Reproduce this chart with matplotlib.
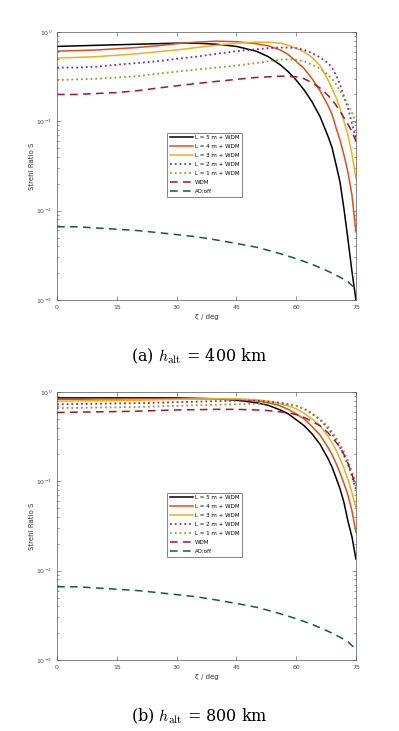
import matplotlib.pyplot as plt
import numpy as np

# zenith angle (deg)
zeta = [0, 5, 10, 15, 20, 25, 30, 35, 40, 45, 50, 53, 56, 58, 60, 62, 64, 66, 68, 69, 70, 71, 72, 73, 74, 75]

# (a) h_alt = 400 km
s400_L5 = [0.69, 0.70, 0.71, 0.72, 0.73, 0.74, 0.75, 0.75, 0.73, 0.69, 0.61, 0.53, 0.43, 0.36, 0.29,
           0.225, 0.165, 0.113, 0.068, 0.051, 0.033, 0.021, 0.0105, 0.0048, 0.0021, 0.001]
s400_L4 = [0.61, 0.62, 0.63, 0.65, 0.67, 0.70, 0.74, 0.77, 0.79, 0.78, 0.74, 0.70, 0.63, 0.56, 0.47,
           0.39, 0.30, 0.22, 0.15, 0.12, 0.085, 0.062, 0.042, 0.027, 0.015, 0.0058]
s400_L3 = [0.51, 0.52, 0.53, 0.55, 0.57, 0.60, 0.63, 0.67, 0.71, 0.75, 0.77, 0.77, 0.75, 0.71, 0.66,
           0.60, 0.52, 0.42, 0.29, 0.235, 0.185, 0.14, 0.10, 0.07, 0.043, 0.023]
s400_L2 = [0.40, 0.40, 0.41, 0.43, 0.45, 0.47, 0.50, 0.53, 0.57, 0.61, 0.64, 0.66, 0.67, 0.67, 0.66,
           0.63, 0.58, 0.52, 0.45, 0.40, 0.33, 0.26, 0.19, 0.14, 0.095, 0.065]
s400_L1 = [0.29, 0.295, 0.30, 0.31, 0.32, 0.34, 0.36, 0.38, 0.40, 0.42, 0.45, 0.47, 0.49, 0.495, 0.49,
           0.47, 0.43, 0.39, 0.33, 0.30, 0.26, 0.22, 0.185, 0.155, 0.125, 0.095]
s400_wdm = [0.20, 0.20, 0.205, 0.21, 0.22, 0.235, 0.25, 0.265, 0.28, 0.295, 0.31, 0.315, 0.32, 0.32, 0.315,
            0.30, 0.27, 0.236, 0.195, 0.175, 0.152, 0.13, 0.11, 0.093, 0.077, 0.06]

# (b) h_alt = 800 km
s800_L5 = [0.86, 0.86, 0.86, 0.86, 0.86, 0.86, 0.86, 0.85, 0.84, 0.81, 0.76, 0.71, 0.63, 0.57, 0.49,
           0.42, 0.34, 0.26, 0.18, 0.145, 0.11, 0.083, 0.058, 0.036, 0.024, 0.0135]
s800_L4 = [0.83, 0.83, 0.835, 0.835, 0.84, 0.84, 0.84, 0.84, 0.84, 0.83, 0.80, 0.76, 0.70, 0.64, 0.57,
           0.50, 0.41, 0.33, 0.24, 0.20, 0.16, 0.125, 0.095, 0.07, 0.047, 0.027]
s800_L3 = [0.79, 0.795, 0.80, 0.805, 0.81, 0.82, 0.83, 0.835, 0.84, 0.84, 0.82, 0.79, 0.74, 0.70, 0.65,
           0.58, 0.50, 0.42, 0.32, 0.27, 0.225, 0.18, 0.14, 0.105, 0.075, 0.05]
s800_L2 = [0.73, 0.735, 0.74, 0.745, 0.75, 0.76, 0.77, 0.78, 0.79, 0.80, 0.80, 0.78, 0.76, 0.73, 0.70,
           0.65, 0.57, 0.49, 0.39, 0.34, 0.29, 0.24, 0.195, 0.155, 0.115, 0.08]
s800_L1 = [0.66, 0.665, 0.67, 0.675, 0.68, 0.69, 0.70, 0.71, 0.72, 0.73, 0.74, 0.74, 0.73, 0.72, 0.70,
           0.65, 0.58, 0.50, 0.41, 0.36, 0.31, 0.26, 0.215, 0.17, 0.13, 0.095]
s800_wdm = [0.59, 0.595, 0.60, 0.605, 0.61, 0.62, 0.63, 0.635, 0.64, 0.64, 0.63, 0.62, 0.60, 0.585, 0.56,
            0.52, 0.47, 0.42, 0.35, 0.31, 0.275, 0.24, 0.20, 0.16, 0.12, 0.087]

# AO off (same for both)
s_aooff = [0.0066, 0.0066, 0.0064, 0.0062, 0.006, 0.0057, 0.0054, 0.0051, 0.0047, 0.0043, 0.0039, 0.0036,
           0.0033, 0.0031, 0.0029, 0.0027, 0.0025, 0.0023, 0.0021, 0.002, 0.0019, 0.0018, 0.0017, 0.0016,
           0.00145, 0.00135]

labels = ['L = 5 m + WDM', 'L = 4 m + WDM', 'L = 3 m + WDM', 'L = 2 m + WDM',
          'L = 1 m + WDM', 'WDM', 'AO:off']
colors = ['#000000', '#D95319', '#EDB120', '#7E2F8E', '#77AC30', '#A2142F', '#0E5E3C']
styles = ['-', '-', '-', ':', ':', (0, (5, 3.5)), (0, (5, 3.5))]

panels = [
    ([s400_L5, s400_L4, s400_L3, s400_L2, s400_L1, s400_wdm, s_aooff], r'(a) $h_{\rm alt}$ = 400 km'),
    ([s800_L5, s800_L4, s800_L3, s800_L2, s800_L1, s800_wdm, s_aooff], r'(b) $h_{\rm alt}$ = 800 km'),
]

plt.rcParams['mathtext.fontset'] = 'cm'
fig = plt.figure(figsize=(3.99, 7.31), dpi=100)
bottoms = [0.5896, 0.0971]
caption_y = [0.513, 0.020]

for (series, caption), b, cy in zip(panels, bottoms, caption_y):
    ax = fig.add_axes([0.143, b, 0.749, 0.3666])
    for s, lab, c, ls in zip(series, labels, colors, styles):
        lw = 1.3 if ls == ':' else 1.1
        ax.plot(zeta, s, color=c, linestyle=ls, linewidth=lw, label=lab)
    ax.set_yscale('log')
    ax.set_xlim(0, 75)
    ax.set_ylim(1e-3, 1)
    ax.set_xticks([0, 15, 30, 45, 60, 75])
    ax.tick_params(which='both', direction='in', top=True, right=True,
                   labelsize=4.5, labelcolor='#444444', color='#444444', width=0.4)
    ax.tick_params(which='major', length=3)
    ax.tick_params(which='minor', length=1.6)
    for sp in ax.spines.values():
        sp.set_color('#555555')
        sp.set_linewidth(0.5)
    ax.set_xlabel('ζ / deg', fontsize=5, color='#333333', labelpad=3)
    ax.set_ylabel('Strehl Ratio S', fontsize=5, color='#333333', labelpad=1)
    leg = ax.legend(loc='upper left', bbox_to_anchor=(0.368, 0.625), fontsize=4,
                    handlelength=4.3, handletextpad=0.2, labelspacing=0.72,
                    borderpad=0.45, fancybox=False, framealpha=1, borderaxespad=0)
    leg.get_frame().set_edgecolor('#555555')
    leg.get_frame().set_linewidth(0.5)
    fig.text(0.5, cy, caption, ha='center', va='center', fontsize=11.5,
             family='serif', math_fontfamily='cm')

fig.savefig('out.png', dpi=100)
